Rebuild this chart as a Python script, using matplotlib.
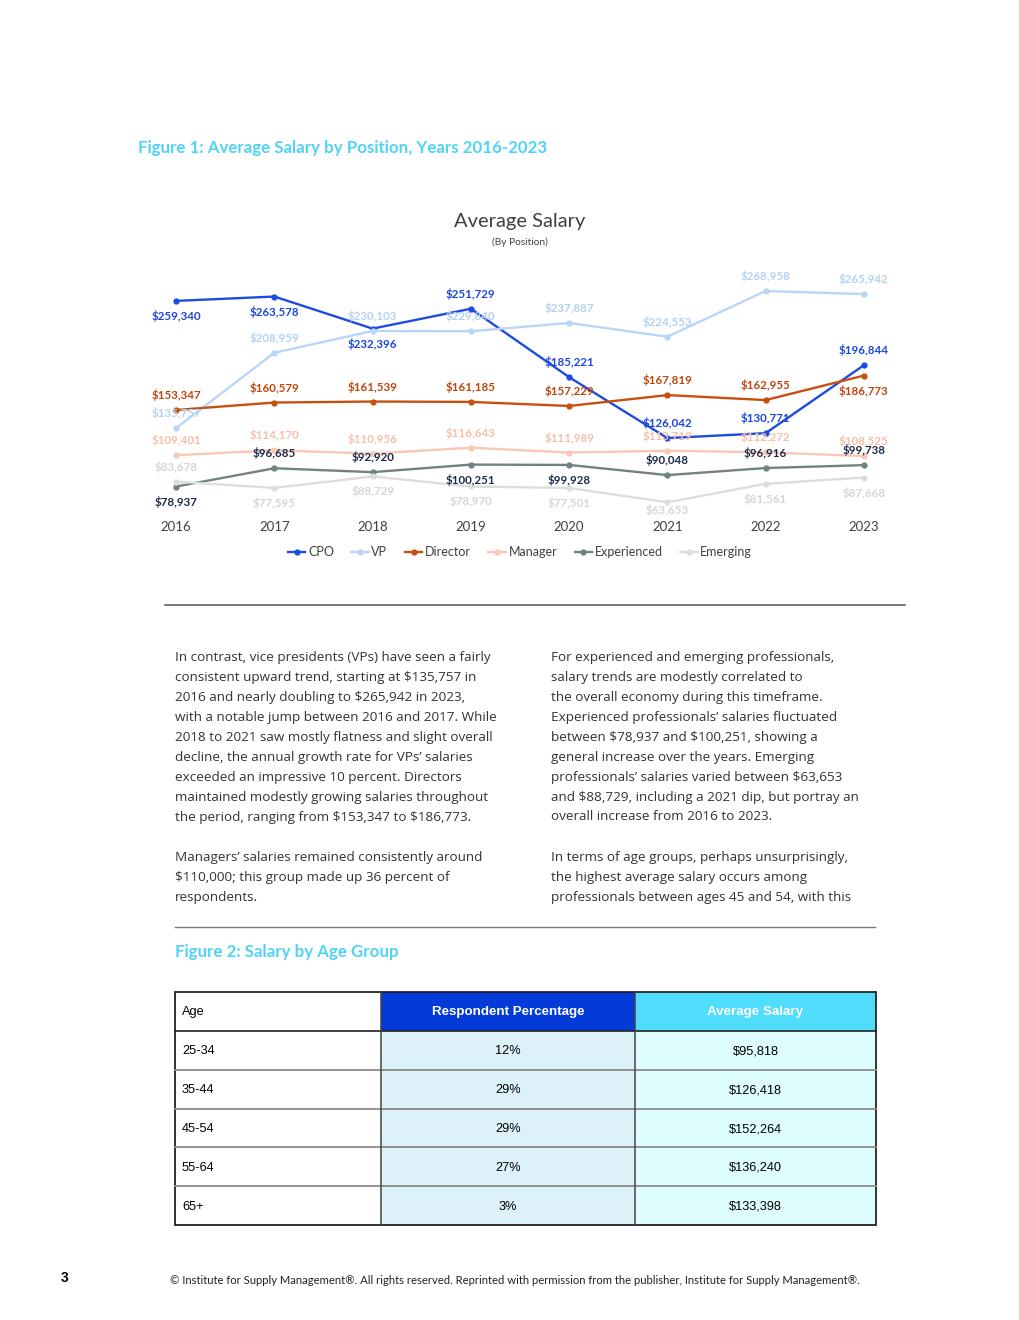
import numpy as np
import matplotlib
matplotlib.use("Agg")
import matplotlib.pyplot as plt
from matplotlib.patches import Rectangle

plt.rcParams["text.parse_math"] = False

years = ["2016", "2017", "2018", "2019", "2020", "2021", "2022", "2023"]
cpo = [259340, 263578, 232396, 251729, 185221, 126042, 130771, 196844]
vp = [135757, 208959, 230103, 229840, 237887, 224553, 268958, 265942]
director = [153347, 160579, 161539, 161185, 157229, 167819, 162955, 186773]
manager = [109401, 114170, 110956, 116643, 111989, 113719, 112272, 108525]
experienced = [78937, 96685, 92920, 100251, 99928, 90048, 96916, 99738]
emerging = [83678, 77595, 88729, 78970, 77501, 63653, 81561, 87668]

ages = ["25-34", "35-44", "45-54", "55-64", "65+"]
pct = [12, 29, 29, 27, 3]
avg_salary = [95818, 126418, 152264, 136240, 133398]

W, H = 1020, 1320
fig = plt.figure(figsize=(W / 100, H / 100), dpi=100)
fig.patch.set_facecolor("white")

BODY = ["Open Sans", "DejaVu Sans"]
ARIAL = ["Liberation Sans", "DejaVu Sans"]
CAL = ["Lato", "DejaVu Sans"]
CYAN = "#4fd3f6"

# page layer in pixel coords
bg = fig.add_axes([0, 0, 1, 1])
bg.set_xlim(0, W)
bg.set_ylim(H, 0)
bg.axis("off")

bg.text(138, 148, "Figure 1: Average Salary by Position, Years 2016-2023",
        color=CYAN, fontsize=12.2, fontweight="bold", family=CAL, va="center")
bg.text(520, 222, "Average Salary", color="#404040", fontsize=14.5, family=CAL,
        ha="center", va="center")
bg.text(520, 242, "(By Position)", color="#404040", fontsize=7.3, family=CAL,
        ha="center", va="center")

# ---- line chart
top, bot, left, right = 265, 515, 127, 913
ax = fig.add_axes([left / W, 1 - bot / H, (right - left) / W, (bot - top) / H])
ax.set_ylim(51271, 294225)
ax.set_xlim(-0.5, 7.5)
for s in ax.spines.values():
    s.set_visible(False)
ax.set_yticks([])
x = np.arange(len(years))
ax.set_xticks(x)
ax.set_xticklabels(years, fontsize=9.5, color="#404040", family=CAL)
ax.tick_params(axis="x", length=0, pad=4)

# label placement per point: a = above, b = below, c = just below
offsets = {"a": 15, "b": -15, "c": -8}
series = [
    ("CPO", cpo, "#1d4be0", "#1a46e0", "bbbaaaaa"),
    ("VP", vp, "#b8d6f8", "#b2d1f3", "aaaaaaaa"),
    ("Director", director, "#c8500f", "#c0440a", "aaaaaaab"),
    ("Manager", manager, "#f9c8b5", "#f6bea7", "aaaaaaaa"),
    ("Experienced", experienced, "#718380", "#1b2a47", "baabbaaa"),
    ("Emerging", emerging, "#dcdede", "#d4d6d6", "abbbbcbb"),
]

for name, vals, lc, tc, place in series:
    ax.plot(x, vals, color=lc, lw=1.7, marker="o", ms=3.5, label=name)
    for i, v in enumerate(vals):
        ax.annotate("${:,}".format(v), (x[i], v), xytext=(0, offsets[place[i]]),
                    textcoords="offset pixels", ha="center", va="center",
                    fontsize=8.3, fontweight="bold", color=tc, family=CAL)

leg = fig.legend(loc="center", bbox_to_anchor=(520 / W, 1 - 552 / H), ncol=6,
                 frameon=False, handlelength=1.4, handletextpad=0.2,
                 columnspacing=1.4, prop={"family": CAL, "size": 9})
for t in leg.get_texts():
    t.set_color("#404040")

# ---- rules
bg.plot([165, 905], [605, 605], color="#555555", lw=1.1)
bg.plot([175, 875], [927, 927], color="#777777", lw=1.0)

# ---- body text
col1 = [
    "In contrast, vice presidents (VPs) have seen a fairly",
    "consistent upward trend, starting at $135,757 in",
    "2016 and nearly doubling to $265,942 in 2023,",
    "with a notable jump between 2016 and 2017. While",
    "2018 to 2021 saw mostly flatness and slight overall",
    "decline, the annual growth rate for VPs\u2019 salaries",
    "exceeded an impressive 10 percent. Directors",
    "maintained modestly growing salaries throughout",
    "the period, ranging from $153,347 to $186,773.",
    "",
    "Managers\u2019 salaries remained consistently around",
    "$110,000; this group made up 36 percent of",
    "respondents.",
]
col2 = [
    "For experienced and emerging professionals,",
    "salary trends are modestly correlated to",
    "the overall economy during this timeframe.",
    "Experienced professionals\u2019 salaries fluctuated",
    "between $78,937 and $100,251, showing a",
    "general increase over the years. Emerging",
    "professionals\u2019 salaries varied between $63,653",
    "and $88,729, including a 2021 dip, but portray an",
    "overall increase from 2016 to 2023.",
    "",
    "In terms of age groups, perhaps unsurprisingly,",
    "the highest average salary occurs among",
    "professionals between ages 45 and 54, with this",
]
for cx, lines in ((175, col1), (551, col2)):
    for k, line in enumerate(lines):
        bg.text(cx, 657 + 20 * k, line, fontsize=9.7, color="#333333",
                family=BODY, va="center")

# ---- table
bg.text(175, 952, "Figure 2: Salary by Age Group", color=CYAN, fontsize=12.2,
        fontweight="bold", family=CAL, va="center")

cols = [175, 381, 635, 876]
row_top = 992
head_h = 39
row_h = (1225 - 1031) / len(ages)
head_fill = ["white", "#033ad8", "#50dcfb"]
body_fill = ["white", "#ddf1f8", "#defdfe"]
headers = ["Age", "Respondent Percentage", "Average Salary"]
for j in range(3):
    bg.add_patch(Rectangle((cols[j], row_top), cols[j + 1] - cols[j], head_h,
                           facecolor=head_fill[j], edgecolor="none"))
    tx = cols[j] + 7 if j == 0 else (cols[j] + cols[j + 1]) / 2
    bg.text(tx, row_top + head_h / 2 + 1, headers[j],
            fontsize=9.2 if j == 0 else 9.6,
            fontweight="normal" if j == 0 else "bold",
            color="black" if j == 0 else "white", family=ARIAL,
            ha="left" if j == 0 else "center", va="center")
for i in range(len(ages)):
    y0 = row_top + head_h + i * row_h
    cells = [ages[i], "{}%".format(pct[i]), "${:,}".format(avg_salary[i])]
    for j in range(3):
        bg.add_patch(Rectangle((cols[j], y0), cols[j + 1] - cols[j], row_h,
                               facecolor=body_fill[j], edgecolor="none"))
        tx = cols[j] + 7 if j == 0 else (cols[j] + cols[j + 1]) / 2
        bg.text(tx, y0 + row_h / 2 + 1, cells[j], fontsize=9.2, color="black",
                family=ARIAL, ha="left" if j == 0 else "center", va="center")
    if i > 0:
        bg.plot([cols[0], cols[-1]], [y0, y0], color="#8a8a8a", lw=1.3)
tb = 1225
bg.plot([cols[0], cols[-1]], [row_top + head_h] * 2, color="#222222", lw=1.2)
for cx in cols[1:-1]:
    bg.plot([cx, cx], [row_top, tb], color="#444444", lw=1.1)
bg.add_patch(Rectangle((cols[0], row_top), cols[-1] - cols[0], tb - row_top,
                       facecolor="none", edgecolor="#222222", lw=1.3))

# ---- footer
bg.text(65, 1278, "3", fontsize=10, fontweight="bold", family=ARIAL,
        ha="center", va="center")
bg.text(515, 1280, "\u00a9 Institute for Supply Management\u00ae. All rights reserved. "
        "Reprinted with permission from the publisher, Institute for Supply Management\u00ae.",
        fontsize=8.1, family=CAL, ha="center", va="center", color="#222222")

fig.savefig("out.png", dpi=100, facecolor="white")
